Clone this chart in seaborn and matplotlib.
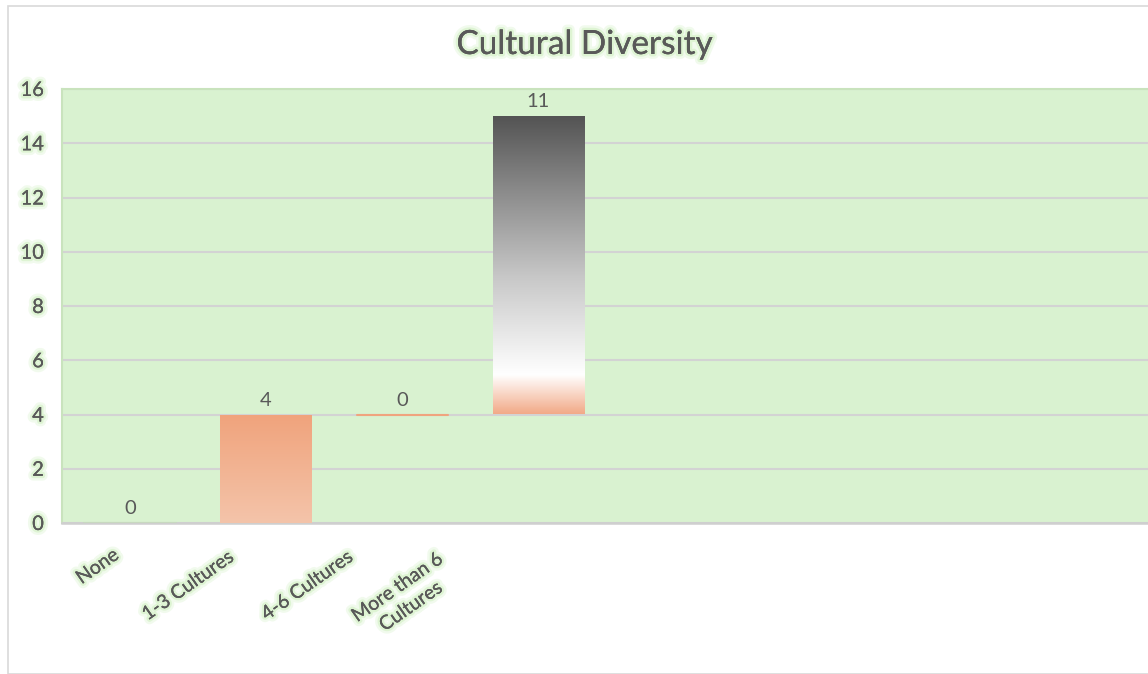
import numpy as np
import pandas as pd
import matplotlib
matplotlib.use("Agg")
import matplotlib.pyplot as plt
import matplotlib.transforms as mtransforms
import seaborn as sns
from matplotlib import patheffects as pe
from matplotlib.colors import LinearSegmentedColormap
from matplotlib.patches import Rectangle

categories = ["None", "1-3 Cultures", "4-6 Cultures", "More than 6\nCultures"]
values = [0, 4, 0, 11]
yticks = [0, 2, 4, 6, 8, 10, 12, 14, 16]
title = "Cultural Diversity"

bases = list(np.concatenate([[0], np.cumsum(values)[:-1]]))

sns.set_theme(style="white")
plt.rcParams['font.family'] = ['Lato', 'DejaVu Sans']

TXT = "#595959"
glow = [pe.withStroke(linewidth=7, foreground="#c2ecae", alpha=0.22),
        pe.withStroke(linewidth=3.5, foreground="#c2ecae", alpha=0.4), pe.Normal()]

fig = plt.figure(figsize=(11.48, 6.74), dpi=100)
fig.patch.set_facecolor("white")
fig.patches.append(Rectangle((8/1148, 0), 1.2, 1 - 6/674, transform=fig.transFigure,
                             fill=False, edgecolor="#d9d9d9", linewidth=1.2))
ax = fig.add_axes([62/1148, 1 - 523/674, 1 - 62/1148 + 0.002, (523 - 89)/674])

df = pd.DataFrame({"cat": categories, "val": values})
sns.barplot(data=df, x="cat", y="val", ax=ax, order=categories, errorbar=None,
            width=0.67, color="#F0A47E", saturation=1, zorder=3)

ax.set_facecolor("#D9F2D0")
ax.set_xlim(-0.5, 7.5)
ax.set_ylim(0, 16)
ax.set_yticks(yticks)
ax.yaxis.grid(True, color="#d3d3d3", linewidth=1.5, zorder=0)
ax.set_axisbelow(True)
for s in ["top", "right", "left"]:
    ax.spines[s].set_color("#c9e3bd")
    ax.spines[s].set_linewidth(1.5)
ax.spines["bottom"].set_color("#cfcfcf")
ax.spines["bottom"].set_linewidth(1.8)

cmaps = {
    1: LinearSegmentedColormap.from_list("b", ["#F4C4AA", "#F0A37C"]),
    3: LinearSegmentedColormap.from_list(
        "d", [(0, "#F2AA88"), (0.13, "#FFFFFF"), (0.45, "#C9C9C9"), (0.75, "#8A8A8A"), (1, "#535353")]),
}

for i, p in enumerate(ax.patches[:len(values)]):
    p.set_y(bases[i])
    p.set_height(values[i])
    p.set_edgecolor("none")
    x0 = p.get_x()
    w = p.get_width()
    if values[i] == 0:
        ax.plot([x0, x0 + w], [bases[i], bases[i]], color="#F0A47E" if bases[i] > 0 else "#c8d8c0",
                linewidth=1.5, zorder=4)
    else:
        p.set_facecolor("none")
        grad = np.linspace(0, 1, 256).reshape(-1, 1)
        im = ax.imshow(grad, cmap=cmaps.get(i, cmaps[1]), origin="lower", aspect="auto",
                       extent=[x0, x0 + w, bases[i], bases[i] + values[i]], zorder=3)
        im.set_clip_path(p)
    ax.text(i, bases[i] + values[i] + 0.22, str(values[i]), ha="center", va="bottom",
            fontsize=14.5, color=TXT, zorder=5)

ax.set_aspect("auto")
ax.set_xlim(-0.5, 7.5)
ax.set_ylim(0, 16)
ax.set_xlabel("")
ax.set_ylabel("")
ax.tick_params(axis="both", length=0)
ax.tick_params(axis="y", pad=13, labelsize=14.5, labelcolor=TXT)
ax.tick_params(axis="x", pad=8, labelsize=14, labelcolor=TXT)
ax.set_xticks(range(len(categories)))
ax.set_xticklabels(categories, rotation=35, ha="right", rotation_mode="anchor",
                   multialignment="center", linespacing=1.45)
label_dx = [-18, -39, -56, -102]
label_dy = [-12, -14, -14, -16]
for lab, dx, dy in zip(ax.get_xticklabels(), label_dx, label_dy):
    lab.set_transform(lab.get_transform() + mtransforms.Affine2D().translate(dx, dy))
for lab in ax.get_xticklabels() + ax.get_yticklabels():
    lab.set_path_effects(glow)

fig.text(585/1148, 1 - 45/674, title, ha="center", va="center", fontsize=24, color=TXT,
         path_effects=glow)

fig.savefig("out.png", dpi=100)
